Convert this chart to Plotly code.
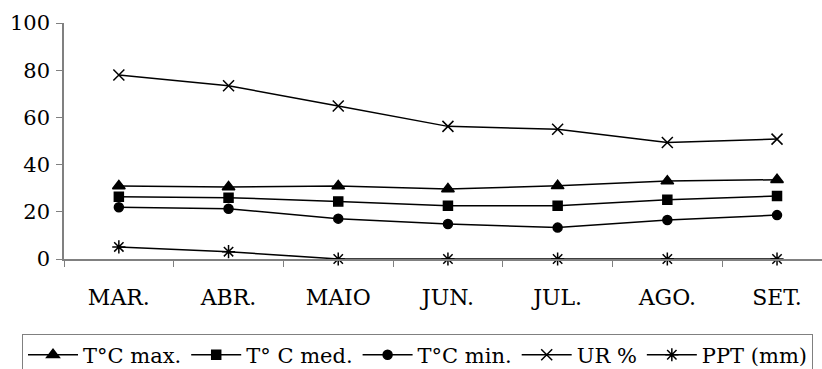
import plotly.graph_objects as go

# Monthly climate readings, March to September
months = ["MAR.", "ABR.", "MAIO", "JUN.", "JUL.", "AGO.", "SET."]
t_max = [30.9, 30.5, 30.9, 29.7, 31.0, 33.0, 33.6]
t_med = [26.4, 26.0, 24.4, 22.6, 22.6, 25.1, 26.7]
t_min = [21.9, 21.3, 17.1, 14.8, 13.3, 16.5, 18.6]
ur = [78.0, 73.4, 64.8, 56.2, 55.0, 49.4, 50.8]
ppt = [5.1, 3.1, 0, 0, 0, 0, 0]

series = [
    ("T°C max.", t_max, "triangle-up", 11),
    ("T° C med.", t_med, "square", 9),
    ("T°C min.", t_min, "circle", 9),
    ("UR %", ur, "x-thin-open", 11),
    ("PPT (mm)", ppt, "asterisk-open", 11),
]

FONT = "DejaVu Serif"

fig = go.Figure()
for name, vals, sym, size in series:
    fig.add_trace(go.Scatter(
        x=months, y=vals, name=name, mode="lines+markers",
        line=dict(color="black", width=1.5),
        marker=dict(symbol=sym, size=size, color="black",
                    line=dict(color="black", width=1.5)),
        cliponaxis=False,
    ))

fig.update_layout(
    width=822, height=369,
    margin=dict(l=64, r=0, t=23, b=110, autoexpand=False),
    paper_bgcolor="white", plot_bgcolor="white",
    font=dict(family=FONT, color="black", size=20),
    showlegend=True,
    legend=dict(
        orientation="h", x=-0.0554, xanchor="left", y=-0.316, yanchor="top",
        bordercolor="#808080", borderwidth=1,
        font=dict(family=FONT, size=21, color="black"),
        itemwidth=50, tracegroupgap=0,
    ),
)

fig.update_xaxes(
    type="category", range=[-0.5, 6.41],
    showline=True, linecolor="#808080", linewidth=1.5,
    ticks="outside", tickson="boundaries", ticklen=6, tickcolor="#808080",
    showgrid=False, zeroline=False,
    tickfont=dict(family=FONT, size=22), ticklabelstandoff=18,
)
fig.update_yaxes(
    range=[0, 100], dtick=20,
    showline=True, linecolor="#808080", linewidth=1.5,
    ticks="outside", ticklen=6, tickcolor="#808080",
    showgrid=False, zeroline=False,
    tickfont=dict(family=FONT, size=21), ticklabelstandoff=2,
)

fig.write_html("out.html")
